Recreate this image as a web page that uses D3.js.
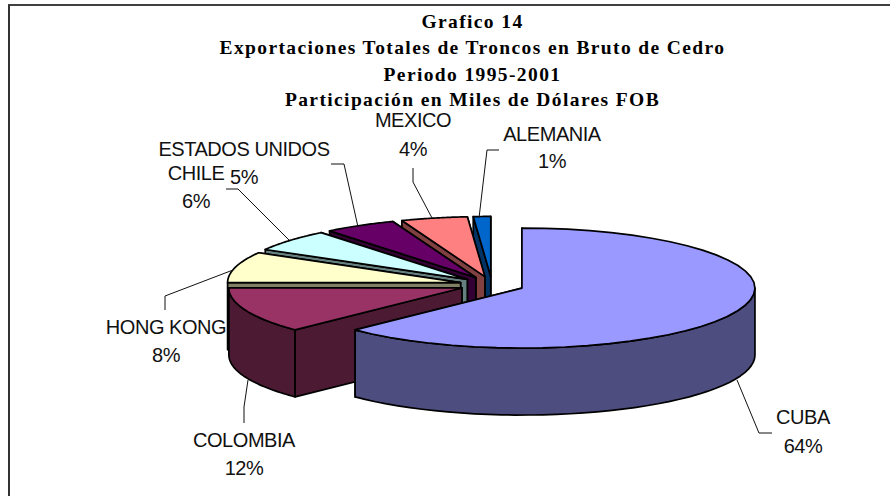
<!DOCTYPE html>
<html>
<head>
<meta charset="utf-8">
<script src="https://cdn.jsdelivr.net/npm/d3@7"></script>
<style>
html,body{margin:0;padding:0;background:#fff}
svg{display:block}
.ttl{font-family:"Liberation Serif",serif;font-weight:bold;font-size:19.5px;letter-spacing:1.38px;text-anchor:middle}
.lbl{font-family:"Liberation Sans",sans-serif;font-size:20px;letter-spacing:-.45px;text-anchor:middle;fill:#111}
</style>
</head>
<body>
<svg id="c" width="890" height="496"></svg>
<script>
const titleLines = ["Grafico 14","Exportaciones Totales de Troncos en Bruto de Cedro","Periodo 1995-2001","Participación en Miles de Dólares FOB"];
const categories = ["CUBA","COLOMBIA","HONG KONG","CHILE","ESTADOS UNIDOS","MEXICO","ALEMANIA"];
// Percentages printed on the reference's labels
const printedPercent = [64,12,8,6,5,4,1];
// Slice sizes as actually drawn in the reference (its 3-D projection skews them from the printed figures)
const drawnShare = [62.7,12.3,8.3,5.9,5,4.6,1.2];

const topColors  = ["#9999FF","#993366","#FFFFCC","#CCFFFF","#660066","#FF8080","#0066CC"];
const wallColors = ["#4D4D80","#4D1A33","#808066","#668080","#330033","#804040","#003366"];

// Annotation layout, kept apart from the data
const labelAnchors = [[803,424,453],[244,447,475],[166,334,362],[196,180,208],[244,156,184],[413,127,156],[552,141,168]];
const leaderPaths = [
  [[737,380],[759,433],[772,433]],
  [[248,380],[244,407],[244,423]],
  [[233,270],[165,296],[165,310]],
  [[289,240],[238,189],[226,189]],
  [[358,227],[344,164],[331,164]],
  [[432,218],[413,182],[413,168]],
  [[479,218],[487,150],[499,150]]
];

const cx=492, cy=284.8, rx=233, ry=60, depth=67, explode=32.5;

const svg=d3.select("#c");
// Frame
svg.append("line").attr("x1",8).attr("x2",890).attr("y1",5).attr("y2",5).attr("stroke","#000").attr("stroke-width",1.5);
svg.append("line").attr("x1",9).attr("x2",9).attr("y1",5).attr("y2",496).attr("stroke","#333").attr("stroke-width",2);

// Slices
const pie=d3.pie().sort(null).value(d=>d)(drawnShare);
const px=a=>Math.sin(a), py=a=>-Math.cos(a);
const line=d3.line();
const arcPts=(a0,a1,ox,oy,dz)=>d3.range(0,41).map(i=>{
  const a=a0+(a1-a0)*i/40;
  return [ox+rx*px(a),oy+ry*py(a)+dz];
});
const slices=pie.map((d,i)=>{
  const mid=(d.startAngle+d.endAngle)/2;
  return {i,a0:d.startAngle,a1:d.endAngle,
    ox:cx+explode*px(mid),oy:cy+explode*(ry/rx)*py(mid)};
});
const pieG=svg.append("g");
const style=(s,fill)=>s.attr("fill",fill).attr("stroke","#000").attr("stroke-width",1.7).attr("stroke-linejoin","round");
// Painter's order: back wedges first, running anticlockwise from Alemania; Cuba last
const order=[6,5,4,3,2,1,0];
order.forEach(k=>{
  const s=slices[k], g=pieG.append("g");
  const rim=(a)=>[s.ox+rx*px(a),s.oy+ry*py(a)];
  const wall=a=>{
    const p=rim(a);
    style(g.append("path").attr("d",line([[s.ox,s.oy],p,[p[0],p[1]+depth],[s.ox,s.oy+depth]])+"Z"),wallColors[k]);
  };
  // Walls turned away from the viewer go first, then the outer rim, then the wall facing the viewer
  const startFaces=s.a0>Math.PI, endFaces=s.a1<Math.PI;
  if(!startFaces) wall(s.a0);
  if(!endFaces) wall(s.a1);
  const lo=Math.max(s.a0,Math.PI/2), hi=Math.min(s.a1,Math.PI*1.5);
  if(hi>lo){
    const up=arcPts(lo,hi,s.ox,s.oy,0), dn=arcPts(lo,hi,s.ox,s.oy,depth).reverse();
    style(g.append("path").attr("d",line(up.concat(dn))+"Z"),wallColors[k]);
  }
  if(startFaces) wall(s.a0);
  if(endFaces) wall(s.a1);
  style(g.append("path").attr("d",line([[s.ox,s.oy]].concat(arcPts(s.a0,s.a1,s.ox,s.oy,0)))+"Z"),topColors[k]);
});

// Leaders
svg.append("g").selectAll("path").data(leaderPaths).join("path")
  .attr("d",d=>line(d)).attr("fill","none").attr("stroke","#111").attr("stroke-width",1);

// Labels
const lab=svg.append("g").selectAll("g").data(categories).join("g");
lab.append("text").attr("class","lbl").attr("x",(d,i)=>labelAnchors[i][0]).attr("y",(d,i)=>labelAnchors[i][1]).text(d=>d);
lab.append("text").attr("class","lbl").attr("x",(d,i)=>labelAnchors[i][0]).attr("y",(d,i)=>labelAnchors[i][2]).text((d,i)=>printedPercent[i]+"%");

// Titles
svg.append("g").selectAll("text").data(titleLines).join("text").attr("class","ttl")
  .attr("x",472.5).attr("y",(d,i)=>[28,54,81,106][i]).text(d=>d);
</script>
</body>
</html>
